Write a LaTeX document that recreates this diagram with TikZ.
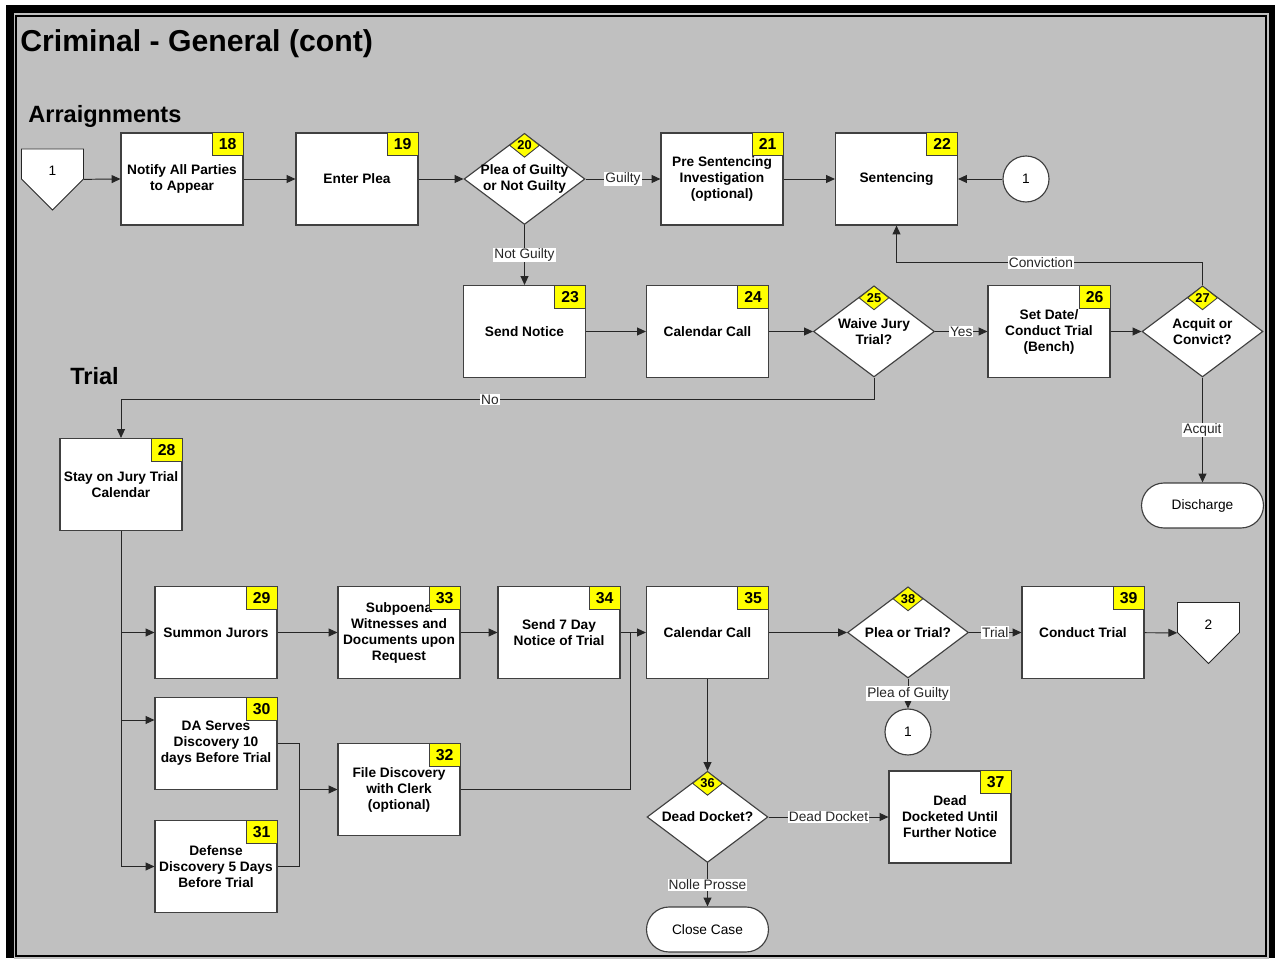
\documentclass[tikz,border=0pt]{standalone}
\usepackage{fontspec}
\setmainfont{Liberation Sans}
\usetikzlibrary{arrows.meta,shapes.geometric}
\definecolor{panel}{HTML}{C0C0C0}
\definecolor{tag}{HTML}{FFFF00}

\begin{document}
\begin{tikzpicture}[x=0.02cm,y=-0.02cm,
	every node/.style={font=\fontsize{7.8}{9.1}\selectfont},
	box/.style={draw=black!75,fill=white,line width=0.65pt,minimum width=2.44cm,minimum height=1.84cm,align=center,inner sep=1pt,font=\fontsize{7.8}{9.1}\selectfont\bfseries},
	dec/.style={diamond,draw=black!75,fill=white,line width=0.65pt,minimum width=2.42cm,minimum height=1.82cm,inner sep=0pt},
	dtxt/.style={align=center,inner sep=0pt,font=\fontsize{7.8}{9.1}\selectfont\bfseries},
	tagbox/.style={draw=black!75,fill=tag,line width=0.5pt,minimum width=0.62cm,minimum height=0.46cm,inner sep=0pt,anchor=north east,font=\fontsize{9}{9}\selectfont\bfseries},
	tagdia/.style={diamond,draw=black!75,fill=tag,line width=0.5pt,minimum width=0.6cm,minimum height=0.48cm,inner sep=0pt,anchor=north,font=\fontsize{7.3}{7.3}\selectfont\bfseries},
	term/.style={draw=black!75,fill=white,line width=0.65pt,rounded corners=0.45cm,minimum width=2.44cm,minimum height=0.9cm},
	conn/.style={circle,draw=black!75,fill=white,line width=0.65pt,minimum size=0.92cm,inner sep=0pt},
	offpg/.style={minimum width=1.24cm,minimum height=0.6cm,inner xsep=0pt,inner ysep=0.06cm,text height=0.48cm,text depth=0pt},
	head/.style={anchor=base west,inner sep=0pt,font=\fontsize{13.4}{13}\selectfont\bfseries},
	ln/.style={black!85,line width=0.55pt},
	arr/.style={ln,-{Triangle[length=5pt,width=4.5pt]}},
	lbl/.style={fill=white,inner sep=0.6pt}]
		\useasboundingbox (0,0) rectangle (1275,962);
		\fill[white] (0,0) rectangle (1275,962);
		\fill[black] (6,5) rectangle (1275,958);
		\fill[panel] (13.5,13.5) rectangle (1268.5,959);
		\draw[black,line width=0.04cm] (16,16) rectangle (1266,956);
		\node[head,font=\fontsize{17.2}{17}\selectfont\bfseries] (title) at (20,52) {Criminal - General (cont)};
		\node[head] (arr) at (28,123) {Arraignments};
		\node[head] (trial) at (70,385) {Trial};
		% arraignments
		\coordinate (p1) at (52.5,164);
		\filldraw[ln,fill=white] ([shift={(-31,-15)}]p1) -- ++(62,0) -- ++(0,30) -- ++(-31,31) -- ++(-31,-31) -- cycle;
		\node[offpg] (off1) at (p1) {1};
		\node[box] (b18) at (182,179) {Notify All Parties\\to Appear};
		\node[box] (b19) at (357,179) {Enter Plea};
		\node[dec,label={[dtxt]center:Plea of Guilty\\or Not Guilty}] (d20) at (524.5,179) {};
		\node[box] (b21) at (722,179) {Pre Sentencing\\Investigation\\(optional)};
		\node[box] (b22) at (896.5,179) {Sentencing};
		\node[conn] (c1) at (1026,179) {1};
		\node[box] (b23) at (524.5,331.5) {Send Notice};
		\node[box] (b24) at (707.5,331.5) {Calendar Call};
		\node[dec,label={[dtxt]center:Waive Jury\\Trial?}] (d25) at (874,331.5) {};
		\node[box] (b26) at (1049,331.5) {Set Date/\\Conduct Trial\\(Bench)};
		\node[dec,label={[dtxt]center:Acquit or\\Convict?}] (d27) at (1202.5,331.5) {};
		\node[term] (dis) at (1202.5,505.5) {Discharge};
		% trial
		\node[box] (b28) at (121,484.5) {Stay on Jury Trial\\Calendar};
		\node[box] (b29) at (216,632.5) {Summon Jurors};
		\node[box] (b33) at (399,632.5) {Subpoena\\Witnesses and\\Documents upon\\Request};
		\node[box] (b34) at (559,632.5) {Send 7 Day\\Notice of Trial};
		\node[box] (b35) at (707.5,632.5) {Calendar Call};
		\node[dec,label={[dtxt]center:Plea or Trial?}] (d38) at (908,632.5) {};
		\node[box] (b39) at (1083,632.5) {Conduct Trial};
		\coordinate (p2) at (1208.5,617.5);
		\filldraw[ln,fill=white] ([shift={(-31,-15)}]p2) -- ++(62,0) -- ++(0,30) -- ++(-31,31) -- ++(-31,-31) -- cycle;
		\node[offpg] (off2) at (p2) {2};
		\node[conn] (c2) at (908,732) {1};
		\node[box] (b30) at (216,743.5) {DA Serves\\Discovery 10\\days Before Trial};
		\node[box] (b31) at (216,866.5) {Defense\\Discovery 5 Days\\Before Trial};
		\node[box] (b32) at (399,789.5) {File Discovery\\with Clerk\\(optional)};
		\node[dec,label={[dtxt]center:Dead Docket?}] (d36) at (707.5,817) {};
		\node[box] (b37) at (950,817) {Dead\\Docketed Until\\Further Notice};
		\node[term] (close) at (707.5,929.5) {Close Case};
		\foreach \k in {18,19,21,22,23,24,26,28,29,30,31,32,33,34,35,37,39}
			\node[tagbox] (t\k) at (b\k.north east) {\k};
		\foreach \k in {20,25,27,36,38}
			\node[tagdia] (t\k) at (d\k.north) {\k};
		% connectors
		\draw[arr] (off1.south east) -- (b18.west);
		\draw[arr] (b18) -- (b19);
		\draw[arr] (b19) -- (d20);
		\draw[arr] (d20) -- node[lbl]{Guilty} (b21);
		\draw[arr] (b21) -- (b22);
		\draw[arr] (c1) -- (b22);
		\draw[arr] (d20) -- node[lbl]{Not Guilty} (b23);
		\draw[arr] (b23) -- (b24);
		\draw[arr] (b24) -- (d25);
		\draw[arr] (d25) -- node[lbl]{Yes} (b26);
		\draw[arr] (b26) -- (d27);
		\draw[arr] (d27.north) -- ++(0,-23) -| node[lbl,pos=0.264]{Conviction} (b22.south);
		\draw[arr] (d27) -- node[lbl]{Acquit} (dis);
		\draw[arr] (d25.south) -- ++(0,22) -| node[lbl,pos=0.255]{No} (b28.north);
		\draw[arr] (b28.south) |- (b29.west);
		\draw[arr] (b28.south) |- ([yshift=0.47cm]b30.west);
		\draw[arr] (b28.south) |- (b31.west);
		\draw[arr] (b29) -- (b33);
		\draw[arr] (b33) -- (b34);
		\draw[arr] (b34) -- (b35);
		\coordinate (mrg) at ([xshift=-0.76cm]b32.west);
		\draw[ln] (b30.east) -| (mrg);
		\draw[ln] (b31.east) -| (mrg);
		\draw[arr] (mrg) -- (b32.west);
		\coordinate (jn) at ([xshift=-0.3cm]b35.west);
		\draw[ln] (b32.east) -| (jn);
		\draw[arr] (b35) -- (d38);
		\draw[arr] (d38) -- node[lbl]{Trial} (b39);
		\draw[arr] (b39) -- (off2.south west);
		\draw[arr] (d38) -- node[lbl]{Plea of Guilty} (c2);
		\draw[arr] (b35) -- (d36);
		\draw[arr] (d36) -- node[lbl]{Dead Docket} (b37);
		\draw[arr] (d36) -- node[lbl]{Nolle Prosse} (close);
	\end{tikzpicture}
\end{document}
